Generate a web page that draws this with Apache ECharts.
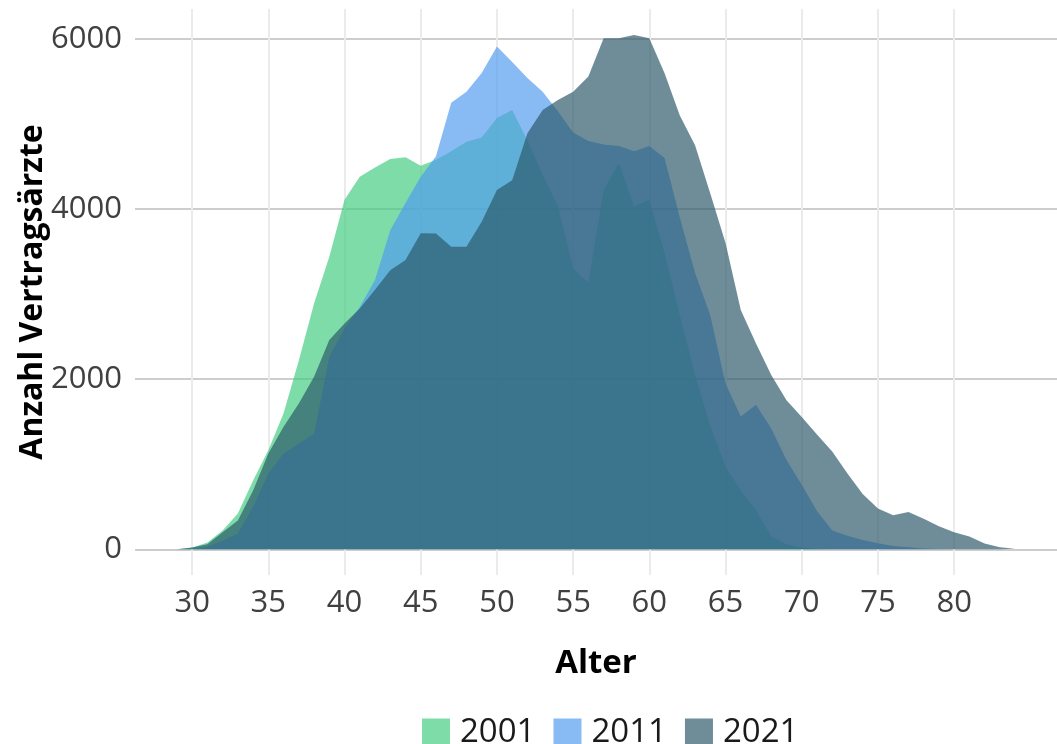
<!DOCTYPE html>
<html>
<head>
<meta charset="utf-8">
<script src="https://cdn.jsdelivr.net/npm/echarts@6/dist/echarts.min.js"></script>
<style>
  html, body { margin: 0; padding: 0; background: #ffffff; }
  #chart { width: 1057px; height: 744px; }
</style>
</head>
<body>
<div id="chart"></div>
<script>
// Ages (x categories)
const ages = [29,30,31,32,33,34,35,36,37,38,39,40,41,42,43,44,45,46,47,48,49,50,51,52,53,54,55,56,57,58,59,60,61,62,63,64,65,66,67,68,69,70,71,72,73,74,75,76,77,78,79,80,81,82,83,84];

const values2001 = [0,20,80,220,420,810,1165,1600,2220,2890,3440,4110,4380,4490,4590,4610,4510,4580,4680,4790,4840,5070,5165,4810,4400,4030,3300,3130,4220,4540,4030,4110,3480,2750,2050,1450,970,690,460,150,60,20,5,0,0,0,0,0,0,0,0,0,0,0,0,0];

const values2011 = [0,5,30,100,185,500,890,1125,1245,1360,2260,2600,2850,3165,3750,4070,4380,4620,5250,5380,5600,5910,5730,5540,5380,5150,4900,4800,4760,4740,4680,4740,4600,3900,3250,2750,1950,1560,1700,1420,1050,760,450,220,160,110,70,40,25,10,5,0,0,0,0,0];

const values2021 = [0,20,60,200,340,690,1125,1440,1715,2030,2460,2655,2830,3050,3280,3400,3715,3714,3557,3557,3850,4224,4340,4890,5165,5282,5380,5557,6008,6008,6047,6008,5596,5100,4750,4184,3600,2812,2420,2050,1753,1556,1350,1150,890,650,480,400,439,360,270,200,150,67,25,8];

const seriesNames = ['2001', '2011', '2021'];
const xTicks = [30,35,40,45,50,55,60,65,70,75,80];
const yTicks = [0,2000,4000,6000];

const baseColors = ['#40cc7f', '#509bef', '#2b5769'];
const legendColors = ['#7ddca8', '#88bbf4', '#6f8d99'];
const alpha = 0.68;

function pairs(vals) { return ages.map((a, i) => [a, vals[i]]); }
const allValues = [values2001, values2011, values2021];

const font = 'Open Sans';

const chart = echarts.init(document.getElementById('chart'), null, { renderer: 'canvas' });
chart.setOption({
  animation: false,
  backgroundColor: '#ffffff',
  grid: { left: 135, right: -17, top: 9, bottom: 169 },
  legend: {
    left: 417, top: 711,
    itemWidth: 28, itemHeight: 28, itemGap: 18,
    icon: 'rect',
    textStyle: { fontFamily: font, fontSize: 33, color: '#1a1a1a', padding: [0, 0, 0, 5] },
    data: seriesNames.map((n, i) => ({ name: n, itemStyle: { color: legendColors[i], opacity: 1 } }))
  },
  xAxis: {
    type: 'value',
    min: 26.25, max: 86.75,
    name: 'Alter', nameLocation: 'middle', nameGap: 72, nameMoveOverlap: false,
    nameTextStyle: { fontFamily: font, fontSize: 33, fontWeight: 'bold', color: '#000' },
    axisLine: { show: false },
    axisTick: { show: false, customValues: xTicks },
    axisLabel: { customValues: xTicks, formatter: v => String(v), fontFamily: font, fontSize: 31, color: '#404040', margin: 13 },
    splitLine: { show: true, lineStyle: { color: '#ebebeb', width: 2 } }
  },
  yAxis: {
    type: 'value',
    min: -302, max: 6352,
    name: 'Anzahl Vertragsärzte', nameLocation: 'middle', nameGap: 86, nameMoveOverlap: false,
    nameTextStyle: { fontFamily: font, fontSize: 32, fontWeight: 'bold', color: '#000' },
    axisLine: { show: false },
    axisTick: { show: false, customValues: yTicks },
    axisLabel: { customValues: yTicks, formatter: v => String(v), fontFamily: font, fontSize: 31, color: '#404040', margin: 13 },
    splitLine: { show: true, lineStyle: { color: '#cdcdcd', width: 2 } }
  },
  series: seriesNames.map((n, i) => ({
    name: n,
    type: 'line',
    data: pairs(allValues[i]),
    symbol: 'none',
    smooth: false,
    lineStyle: { width: 0 },
    itemStyle: { color: legendColors[i] },
    areaStyle: { color: baseColors[i], opacity: alpha, origin: 'auto' }
  }))
});
</script>
</body>
</html>
